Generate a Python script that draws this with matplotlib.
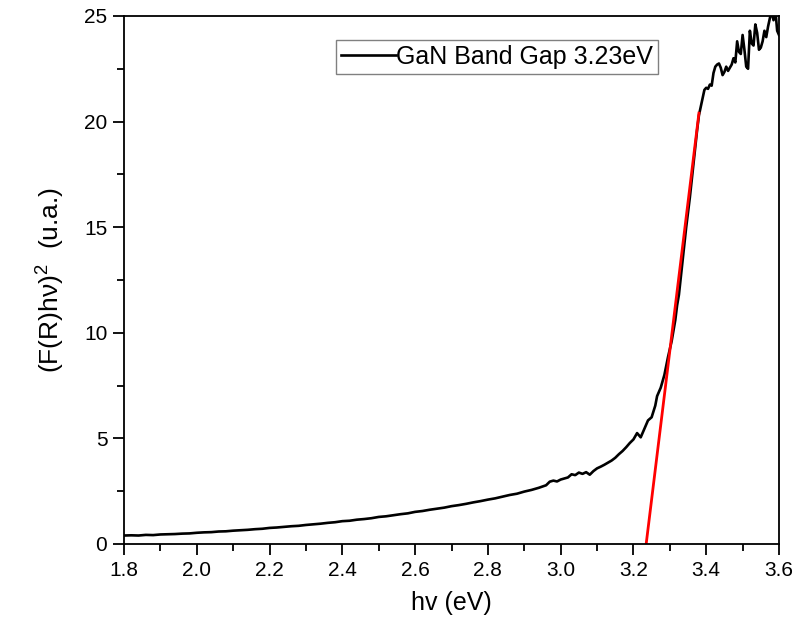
import matplotlib
matplotlib.use("Agg")
import matplotlib.pyplot as plt
from matplotlib.ticker import MultipleLocator

# spectre Kubelka-Munk
hv = [1.80, 1.82, 1.84, 1.86, 1.88, 1.90, 1.92, 1.94, 1.96, 1.98,
      2.00, 2.02, 2.04, 2.06, 2.08, 2.10, 2.12, 2.14, 2.16, 2.18,
      2.20, 2.22, 2.24, 2.26, 2.28, 2.30, 2.32, 2.34, 2.36, 2.38,
      2.40, 2.42, 2.44, 2.46, 2.48, 2.50, 2.52, 2.54, 2.56, 2.58,
      2.60, 2.62, 2.64, 2.66, 2.68, 2.70, 2.72, 2.74, 2.76, 2.78,
      2.80, 2.82, 2.84, 2.86, 2.88, 2.90, 2.92, 2.94, 2.96, 2.97,
      2.98, 2.99, 3.00, 3.02, 3.03, 3.04, 3.05, 3.06, 3.07, 3.08,
      3.09, 3.10, 3.11, 3.12, 3.13, 3.14, 3.15, 3.16, 3.17, 3.18,
      3.19, 3.20, 3.21, 3.22, 3.23, 3.24, 3.25, 3.26, 3.265, 3.275,
      3.285, 3.295, 3.305, 3.315, 3.32, 3.325, 3.33, 3.335, 3.34, 3.345,
      3.35, 3.355, 3.36, 3.365, 3.37, 3.375, 3.38, 3.385, 3.39, 3.395,
      3.40, 3.405, 3.41, 3.415, 3.42, 3.425, 3.43, 3.435, 3.44, 3.445,
      3.45, 3.455, 3.46, 3.465, 3.47, 3.475, 3.48, 3.485, 3.49, 3.495,
      3.50, 3.505, 3.51, 3.515, 3.52, 3.525, 3.53, 3.535, 3.54, 3.545,
      3.55, 3.555, 3.56, 3.565, 3.57, 3.575, 3.58, 3.585, 3.59, 3.595,
      3.60]
fr = [0.40, 0.41, 0.40, 0.43, 0.42, 0.45, 0.46, 0.47, 0.49, 0.50,
      0.53, 0.55, 0.56, 0.59, 0.60, 0.63, 0.65, 0.67, 0.70, 0.72,
      0.76, 0.78, 0.81, 0.84, 0.86, 0.90, 0.93, 0.96, 1.00, 1.03,
      1.08, 1.10, 1.15, 1.18, 1.22, 1.28, 1.31, 1.36, 1.41, 1.45,
      1.52, 1.56, 1.62, 1.67, 1.72, 1.79, 1.84, 1.90, 1.97, 2.03,
      2.10, 2.16, 2.24, 2.32, 2.38, 2.48, 2.56, 2.66, 2.78, 2.95,
      3.00, 2.96, 3.05, 3.15, 3.30, 3.26, 3.38, 3.32, 3.40, 3.28,
      3.45, 3.58, 3.66, 3.75, 3.85, 3.95, 4.08, 4.25, 4.40, 4.58,
      4.78, 4.95, 5.25, 5.05, 5.45, 5.85, 6.00, 6.55, 7.00, 7.40,
      8.00, 8.85, 9.60, 10.60, 11.30, 11.80, 12.60, 13.40, 14.20, 15.00,
      15.70, 16.40, 17.20, 18.00, 18.80, 19.60, 20.30, 20.70, 21.10, 21.50,
      21.60, 21.55, 21.75, 21.70, 22.30, 22.60, 22.70, 22.75, 22.55, 22.20,
      22.35, 22.60, 22.40, 22.55, 22.70, 23.00, 22.80, 23.80, 23.30, 23.20,
      24.10, 23.40, 22.60, 22.50, 24.30, 23.70, 23.60, 24.60, 24.20, 23.40,
      23.50, 23.80, 24.30, 24.00, 24.50, 24.90, 25.20, 24.80, 25.30, 24.30,
      24.10]

# droite de Tauc (extrapolation -> 3.23 eV)
fit_x = [3.235, 3.38]
fit_y = [0.0, 20.4]

plt.rcParams['font.family'] = ['Liberation Sans', 'DejaVu Sans']
plt.rcParams['mathtext.fontset'] = 'custom'
plt.rcParams['mathtext.rm'] = 'Liberation Sans'

fig = plt.figure(figsize=(7.97, 6.34), dpi=100)
ax = fig.add_axes([0.1556, 0.142, 0.8218, 0.8328])

ax.plot(hv, fr, color='black', linewidth=1.9, label='GaN Band Gap 3.23eV')
ax.plot(fit_x, fit_y, color='#ff0000', linewidth=2)

ax.set_xlim(1.8, 3.6)
ax.set_ylim(0, 25)
ax.xaxis.set_major_locator(MultipleLocator(0.2))
ax.xaxis.set_minor_locator(MultipleLocator(0.1))
ax.yaxis.set_major_locator(MultipleLocator(5))
ax.yaxis.set_minor_locator(MultipleLocator(2.5))
ax.set_xticklabels([f"{v:.1f}" for v in ax.get_xticks()])

ax.tick_params(which='both', direction='out', top=False, right=False, width=1.3, labelsize=15)
ax.tick_params(which='major', length=8, pad=4)
ax.tick_params(which='minor', length=5)
for s in ax.spines.values():
    s.set_linewidth(1.3)

ax.set_xlabel("hv (eV)", fontsize=18, labelpad=8)
ax.set_ylabel(r"(F(R)hν)$\mathregular{^2}$  (u.a.)", fontsize=19, labelpad=12)

leg = ax.legend(loc='upper left', bbox_to_anchor=(0.3237, 0.9545), fontsize=18,
                handlelength=2.2, handletextpad=0.0, borderpad=0.2, borderaxespad=0,
                fancybox=False, framealpha=1)
leg.get_frame().set_edgecolor('#808080')
leg.get_frame().set_linewidth(1.0)

fig.savefig("out.png", dpi=100)
